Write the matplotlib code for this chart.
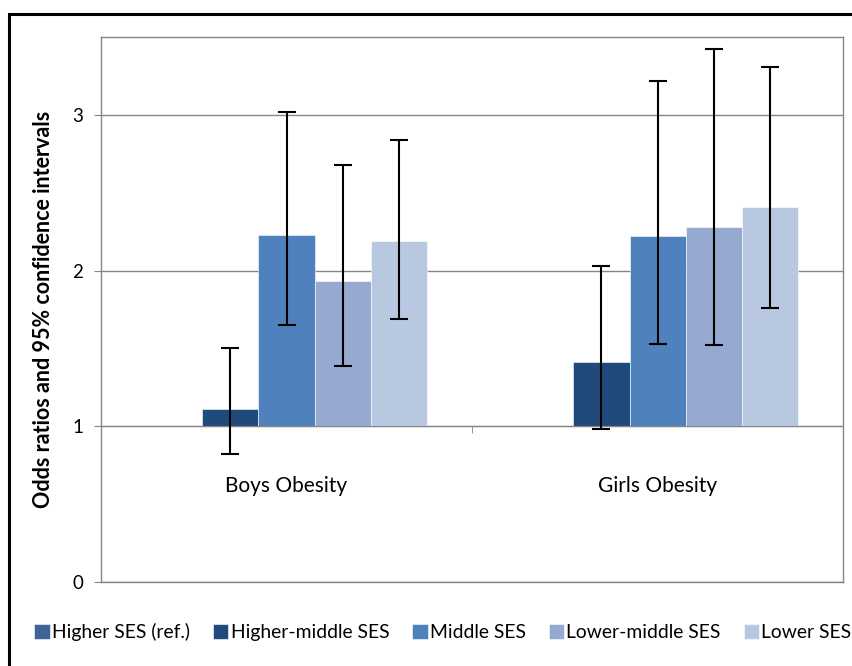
import numpy as np
import matplotlib
matplotlib.use("Agg")
import matplotlib.pyplot as plt
from matplotlib.patches import Rectangle

plt.rcParams['font.family'] = ['Lato', 'DejaVu Sans']

categories = ["Boys Obesity", "Girls Obesity"]
series = ["Higher SES (ref.)", "Higher-middle SES", "Middle SES",
          "Lower-middle SES", "Lower SES"]

# odds ratios per series, [boys, girls]
odds = [
    [1.00, 1.00],
    [1.11, 1.41],
    [2.23, 2.22],
    [1.93, 2.28],
    [2.19, 2.41],
]
ci_low = [
    None,
    [0.82, 0.98],
    [1.65, 1.53],
    [1.39, 1.52],
    [1.69, 1.76],
]
ci_high = [
    None,
    [1.50, 2.03],
    [3.02, 3.22],
    [2.68, 3.42],
    [2.84, 3.31],
]
colors = ["#3D6593", "#214A7C", "#4F81BD", "#95A9D1", "#B9C8E1"]

fig = plt.figure(figsize=(8.53, 6.66), dpi=100)
ax = fig.add_axes([0.1184, 0.1261, 0.8699, 0.8183])

# outer chart border (only left and top visible)
fig.patches.append(Rectangle((9 / 853, -0.1), 2.0, 1.079, transform=fig.transFigure,
                             fill=False, edgecolor='black', linewidth=2.2, clip_on=False))

x = np.arange(len(categories))
width = 0.151
handles = []
for i, name in enumerate(series):
    pos = x + (i - 2) * width
    vals = np.array(odds[i])
    b = ax.bar(pos, vals - 1, bottom=1, width=width, color=colors[i],
               edgecolor='white', linewidth=0.4, label=name, zorder=2)
    handles.append(b)
    if ci_low[i] is not None:
        err = [vals - np.array(ci_low[i]), np.array(ci_high[i]) - vals]
        ax.errorbar(pos, vals, yerr=err, fmt='none', ecolor='black',
                    elinewidth=1.5, capsize=6.5, capthick=1.5, zorder=3)

ax.set_xlim(-0.5, 1.5)
ax.set_ylim(0, 3.5)
ax.set_yticks([0, 1, 2, 3])
ax.yaxis.grid(True, color='#868686', linewidth=1.0, zorder=0)
ax.set_axisbelow(True)

for s in ['left', 'top', 'right']:
    ax.spines[s].set_color('#868686')
    ax.spines[s].set_linewidth(1.0)
# category axis crosses at 1
ax.spines['bottom'].set_position(('data', 1))
ax.spines['bottom'].set_color('#868686')
ax.axhline(0, color='#868686', linewidth=1.0, zorder=1, clip_on=False)

ax.set_xticks(x)
ax.set_xticklabels(categories, fontsize=15)
ax.tick_params(axis='x', length=0, pad=36)
ax.set_xticks([-0.5, 0.5, 1.5], minor=True)
ax.tick_params(axis='x', which='minor', length=5, color='#868686', direction='out')
ax.tick_params(axis='y', length=5, color='#868686', labelsize=13.5, pad=8)

ax.set_ylabel("Odds ratios and 95% confidence intervals", fontsize=15.5,
              fontweight='bold')
ax.yaxis.set_label_coords(-0.064, 0.5)

fig.legend(handles=handles, labels=series, loc='center', ncol=5,
           bbox_to_anchor=(443 / 853, 1 - 632 / 666), frameon=False,
           fontsize=13.9, handlelength=0.8, handleheight=0.8,
           handletextpad=0.12, columnspacing=1.18, borderpad=0.2)

fig.savefig("out.png", dpi=100)
